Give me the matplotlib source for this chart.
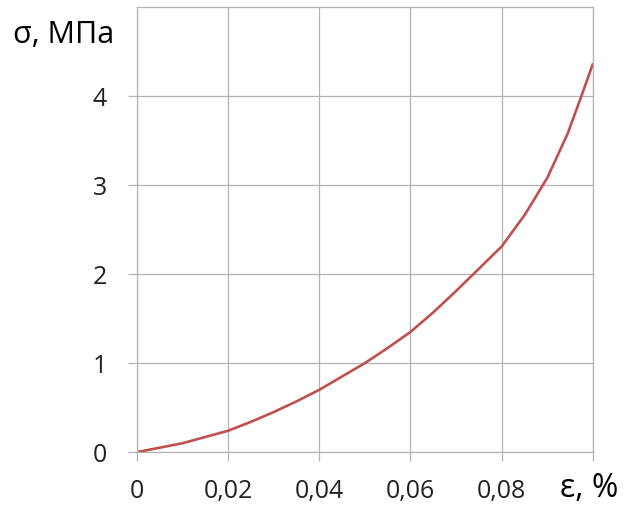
"""Stress-strain curve, sigma vs epsilon."""
import matplotlib
matplotlib.use("Agg")
import matplotlib.pyplot as plt

plt.rcParams["font.family"] = ["Open Sans", "DejaVu Sans"]

strain = [0, 0.005, 0.01, 0.015, 0.02, 0.025, 0.03, 0.035, 0.04, 0.045,
          0.05, 0.055, 0.06, 0.065, 0.07, 0.075, 0.08, 0.085, 0.09,
          0.0945, 0.0975, 0.1]
stress = [0, 0.05, 0.1, 0.17, 0.24, 0.34, 0.45, 0.57, 0.7, 0.85,
          1.0, 1.17, 1.35, 1.57, 1.81, 2.06, 2.31, 2.66, 3.08,
          3.58, 4.0, 4.36]
x_ticks = [0, 0.02, 0.04, 0.06, 0.08, 0.1]
x_labels = ["0", "0,02", "0,04", "0,06", "0,08", ""]
y_ticks = [0, 1, 2, 3, 4]

GRID = "#b4b4b4"

fig = plt.figure(figsize=(6.34, 5.08), dpi=100)
ax = fig.add_axes([0.216, 0.110, 0.719, 0.876])
ax.plot(strain, stress, color="#c0504d", lw=1.9, solid_capstyle="round",
        solid_joinstyle="round")

ax.set_xlim(0, 0.1)
ax.set_ylim(0, 5)
ax.set_xticks(x_ticks)
ax.set_xticklabels(x_labels)
ax.set_yticks(y_ticks)
ax.grid(True, color=GRID, lw=0.9)
for s in ax.spines.values():
    s.set_color(GRID)
    s.set_linewidth(0.9)
ax.tick_params(length=6.5, width=0.9, color=GRID, labelsize=18,
               labelcolor="#222222", pad=13)
ax.tick_params(axis="y", pad=15)

fig.text(0.02, 0.915, "σ, МПа", fontsize=22, va="baseline", ha="left")
fig.text(0.883, 0.022, "ε, %", fontsize=23, va="baseline", ha="left")

fig.savefig("out.png", dpi=100)
